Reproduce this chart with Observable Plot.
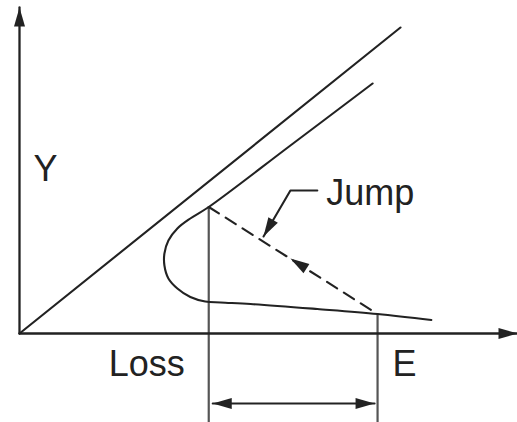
<!DOCTYPE html>
<html><head><meta charset="utf-8">
<script src="https://cdn.jsdelivr.net/npm/d3@7"></script>
<script src="https://cdn.jsdelivr.net/npm/@observablehq/plot@0.6"></script>
<style>body{margin:0;background:#fff}</style>
</head><body><div id="chart"></div>
<script>
// ---- data (abstract units: E along x, Y along y) ----
const xAxisEnd = 10;
const yAxisEnd = 6.52;
const diagX = [0, 7.65];
const diagY = [0, 6.12];
const curveX = [7.09, 5.44, 3.80, 3.43, 3.17, 2.99, 2.91, 2.91, 2.99, 3.17, 3.43, 3.73, 4.04, 4.64, 5.98, 7.19, 8.27];
const curveY = [5.00, 3.76, 2.53, 2.30, 2.10, 1.86, 1.60, 1.36, 1.10, 0.90, 0.73, 0.64, 0.62, 0.59, 0.49, 0.39, 0.27];
const jumpX = [3.80, 7.19];
const jumpY = [2.53, 0.39];
const dropBottom = -1.8;
const spanX = [3.88, 7.13];
const spanY = -1.4;
const leaderX = [5.98, 5.44, 4.90];
const leaderY = [2.86, 2.86, 1.94];
const jumpArrowTip = [5.44, 1.50];
const labelText = ["Y", "Loss", "E", "Jump"];
const labelX = [0.28, 1.79, 7.49, 6.16];
const labelY = [3.06, -0.84, -0.84, 2.58];

// ---- scales ----
const xOpts = {domain: [0, 10], range: [19, 517]};
const yOpts = {domain: [0, 6.5], range: [333, 8]};
const sx = Plot.scale({x: xOpts});
const sy = Plot.scale({y: yOpts});

const ink = "#222";
const pts = (xs, ys, g) => xs.map((x, i) => ({x, y: ys[i], g}));

const axes = [
  ...pts([0, 0], [0, yAxisEnd], "ya"),
  ...pts([0, xAxisEnd], [0, 0], "xa")
];
const solid = [
  ...pts(diagX, diagY, "diag"),
  ...pts(leaderX, leaderY, "leader"),
  ...pts(spanX, [spanY, spanY], "span")
];
const curve = pts(curveX, curveY, "c");
const jump = pts(jumpX, jumpY, "j");
const drops = jumpX.map((x, i) => ({x, y1: jumpY[i], y2: dropBottom}));
const labels = labelText.map((t, i) => ({t, x: labelX[i], y: labelY[i]}));

// arrowheads: tip and the point the arrow comes from
const heads = [
  {x: 0, y: yAxisEnd, fx: 0, fy: 0},
  {x: xAxisEnd, y: 0, fx: 0, fy: 0},
  {x: leaderX[2], y: leaderY[2], fx: leaderX[1], fy: leaderY[1]},
  {x: jumpArrowTip[0], y: jumpArrowTip[1], fx: jumpX[1], fy: jumpY[1]},
  {x: spanX[0], y: spanY, fx: spanX[1], fy: spanY},
  {x: spanX[1], y: spanY, fx: spanX[0], fy: spanY}
].map(d => {
  const dx = sx.apply(d.x) - sx.apply(d.fx);
  const dy = sy.apply(d.y) - sy.apply(d.fy);
  return {...d, angle: Math.atan2(dx, -dy) * 180 / Math.PI};
});
const arrowHead = {
  draw(ctx) {
    const L = 19, W = 5.5;
    ctx.moveTo(0, 0);
    ctx.lineTo(-W, L);
    ctx.lineTo(W, L);
    ctx.closePath();
  }
};

const chart = Plot.plot({
  width: 517,
  height: 422,
  margin: 0,
  x: {...xOpts, axis: null},
  y: {...yOpts, axis: null},
  style: {background: "white", fontFamily: "'Liberation Sans', Arial, sans-serif", overflow: "visible"},
  marks: [
    Plot.ruleX(drops, {x: "x", y1: "y1", y2: "y2", stroke: "#555", strokeWidth: 2.2}),
    Plot.line(axes, {x: "x", y: "y", z: "g", stroke: ink, strokeWidth: 2.3}),
    Plot.line(solid, {x: "x", y: "y", z: "g", stroke: ink, strokeWidth: 2.1}),
    Plot.line(curve, {x: "x", y: "y", curve: "catmull-rom", stroke: ink, strokeWidth: 2.1}),
    Plot.line(jump, {x: "x", y: "y", stroke: ink, strokeWidth: 2.1, strokeDasharray: "12,8"}),
    Plot.dot(heads, {x: "x", y: "y", rotate: "angle", symbol: arrowHead, fill: ink, stroke: "none"}),
    Plot.text(labels, {x: "x", y: "y", text: "t", textAnchor: "start", lineAnchor: "bottom", fontSize: 36, fill: ink})
  ]
});
document.getElementById("chart").appendChild(chart);
</script>
</body></html>
